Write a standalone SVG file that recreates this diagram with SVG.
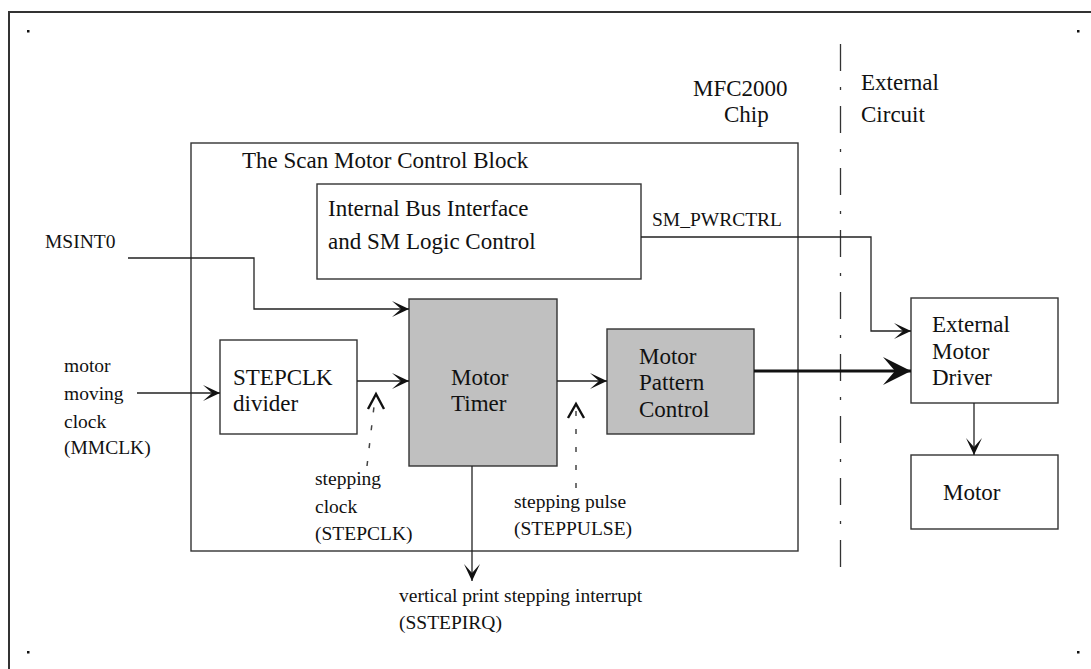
<svg xmlns="http://www.w3.org/2000/svg" width="1091" height="669" viewBox="0 0 1091 669">
<style>
text{font-family:"Liberation Serif","Times New Roman",serif;fill:#111}
.b{font-size:23px}
.a{font-size:19.5px}
.box{fill:#fff;stroke:#333;stroke-width:1.4}
.grey{fill:#c0c0c0;stroke:#333;stroke-width:1.4}
.ln{fill:none;stroke:#222;stroke-width:1.3}
.dot{fill:none;stroke:#444;stroke-width:1.5;stroke-dasharray:5 13}
.chev{fill:none;stroke:#111;stroke-width:2.4}
</style>
<defs>
<marker id="ah" markerUnits="userSpaceOnUse" markerWidth="18" markerHeight="18" refX="17" refY="8" orient="auto">
<path d="M0,0 L17,8 L0,16 L9,8 z" fill="#111"/>
</marker>
<marker id="ahb" markerUnits="userSpaceOnUse" markerWidth="30" markerHeight="30" refX="28" refY="14" orient="auto">
<path d="M0,0 L28,14 L0,28 L12,14 z" fill="#111"/>
</marker>
</defs>
<rect width="1091" height="669" fill="#fff"/>
<path d="M9,669 V12 H1091" fill="none" stroke="#333" stroke-width="2"/>
<rect x="27" y="30" width="2.5" height="2.5" fill="#111"/>
<rect x="1077" y="30" width="2.5" height="2.5" fill="#111"/>
<rect x="27" y="651" width="2.5" height="2.5" fill="#111"/>
<rect x="1077" y="651" width="2.5" height="2.5" fill="#111"/>
<path d="M840.5,44 V71 M840.5,87 V90 M840.5,106 V133 M840.5,149 V152 M840.5,168 V195 M840.5,211 V214 M840.5,230 V257 M840.5,273 V276 M840.5,292 V319 M840.5,335 V338 M840.5,354 V381 M840.5,397 V400 M840.5,416 V443 M840.5,459 V462 M840.5,478 V505 M840.5,521 V524 M840.5,540 V567" fill="none" stroke="#333" stroke-width="1.3"/>
<text class="b" x="693" y="96">MFC2000</text>
<text class="b" x="724" y="122">Chip</text>
<text class="b" x="861" y="90">External</text>
<text class="b" x="861" y="122">Circuit</text>
<g id="scan-block">
<rect x="191" y="143" width="607" height="408" fill="none" stroke="#333" stroke-width="1.4"/>
<text class="b" x="242" y="168">The Scan Motor Control Block</text>
</g>
<g id="bus-interface">
<rect class="box" x="317" y="184" width="324" height="95"/>
<text class="b" x="328" y="216">Internal Bus Interface</text>
<text class="b" x="328" y="249">and SM Logic Control</text>
</g>
<g id="stepclk-divider">
<rect class="box" x="220" y="340" width="137" height="94"/>
<text class="b" x="233" y="385">STEPCLK</text>
<text class="b" x="233" y="411">divider</text>
</g>
<g id="motor-timer">
<rect class="grey" x="409" y="299" width="148" height="167"/>
<text class="b" x="451" y="385">Motor</text>
<text class="b" x="451" y="411">Timer</text>
</g>
<g id="motor-pattern">
<rect class="grey" x="607" y="329" width="147" height="105"/>
<text class="b" x="639" y="364">Motor</text>
<text class="b" x="639" y="390">Pattern</text>
<text class="b" x="639" y="417">Control</text>
</g>
<g id="driver">
<rect class="box" x="911" y="298" width="147" height="105"/>
<text class="b" x="932" y="332">External</text>
<text class="b" x="932" y="359">Motor</text>
<text class="b" x="932" y="385">Driver</text>
</g>
<g id="motor">
<rect class="box" x="911" y="455" width="147" height="74"/>
<text class="b" x="943" y="500">Motor</text>
</g>
<g id="labels">
<text class="a" x="45" y="248">MSINT0</text>
<text class="a" x="64" y="372">motor</text>
<text class="a" x="64" y="400">moving</text>
<text class="a" x="64" y="428">clock</text>
<text class="a" x="64" y="454">(MMCLK)</text>
<text class="a" x="652" y="226">SM_PWRCTRL</text>
<text class="a" x="315" y="485">stepping</text>
<text class="a" x="315" y="513">clock</text>
<text class="a" x="315" y="540">(STEPCLK)</text>
<text class="a" x="514" y="508">stepping pulse</text>
<text class="a" x="514" y="535">(STEPPULSE)</text>
<text class="a" x="399" y="602">vertical print stepping interrupt</text>
<text class="a" x="399" y="629">(SSTEPIRQ)</text>
</g>
<g id="connectors">
<path class="ln" d="M128,258 H254 V309 H409" marker-end="url(#ah)"/>
<path class="ln" d="M137,393 H220" marker-end="url(#ah)"/>
<path class="ln" d="M357,381 H409" marker-end="url(#ah)"/>
<path class="ln" d="M557,381 H607" marker-end="url(#ah)"/>
<path class="ln" d="M641,237 H871 V331 H911" marker-end="url(#ah)"/>
<path d="M754,371 H911" fill="none" stroke="#111" stroke-width="3" marker-end="url(#ahb)"/>
<path class="ln" d="M974,403 V455" marker-end="url(#ah)"/>
<path class="ln" d="M472,466 V581" marker-end="url(#ah)"/>
<path class="dot" d="M367,466 L375,398"/>
<path class="chev" d="M368,409 L376,394 L384,409"/>
<path class="dot" d="M576,488 V407"/>
<path class="chev" d="M568,418 L576,404 L584,418"/>
</g>
</svg>
